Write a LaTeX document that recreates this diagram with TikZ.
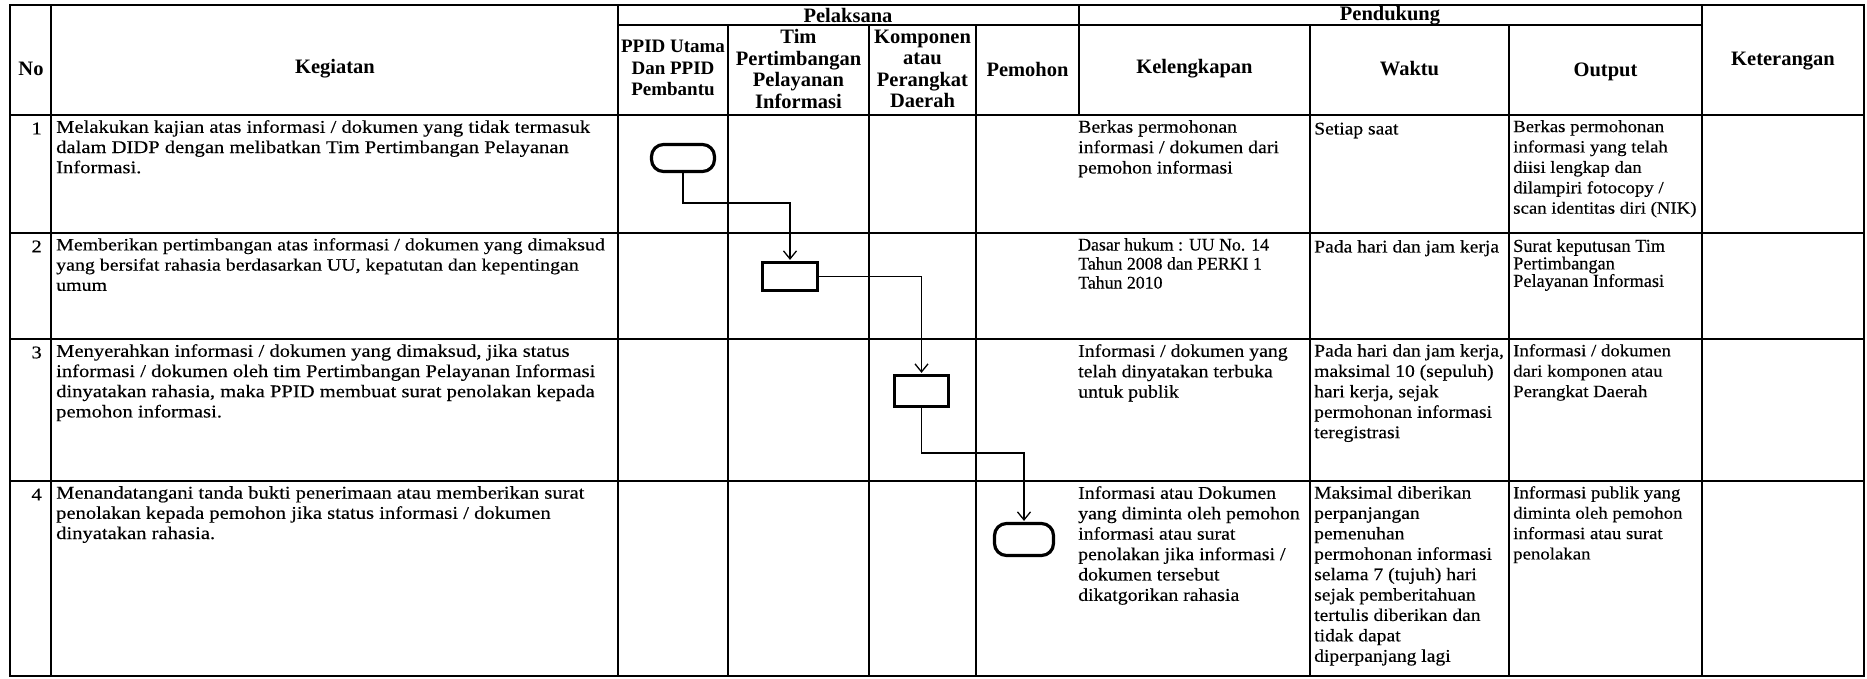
\documentclass[tikz,border=0pt]{standalone}
\usepackage{fontspec}
\setmainfont{Liberation Serif}
\newfontfamily\kegfont[FakeStretch=1.15,FakeBold=0.3]{Liberation Serif}
\newfontfamily\cellfont[FakeStretch=1.1,FakeBold=0.3]{Liberation Serif}
\newfontfamily\narrowfont[FakeBold=0.3]{Liberation Serif}
\usetikzlibrary{arrows.meta}
\begin{document}
\begin{tikzpicture}[x=1pt,y=-1pt,
  tline/.style={line width=1.9pt},
  hdr/.style={font=\bfseries\fontsize{20.5}{21.5}\selectfont, align=center, inner sep=0},
  hdrs/.style={font=\bfseries\fontsize{19}{21.5}\selectfont, align=center, inner sep=0},
  keg/.style={font=\kegfont\fontsize{17.9}{20.2}\selectfont, align=left, anchor=north west, inner sep=0, execute at begin node=\strut},
  kegs/.style={font=\kegfont\fontsize{17.3}{20.2}\selectfont, align=left, anchor=north west, inner sep=0, execute at begin node=\strut},
  cellk/.style={font=\cellfont\fontsize{18}{20.4}\selectfont, align=left, anchor=north west, inner sep=0, execute at begin node=\strut},
  cellw/.style={font=\cellfont\fontsize{17.8}{20.4}\selectfont, align=left, anchor=north west, inner sep=0, execute at begin node=\strut},
  cello/.style={font=\cellfont\fontsize{17.1}{20.4}\selectfont, align=left, anchor=north west, inner sep=0, execute at begin node=\strut},
  cellt/.style={font=\narrowfont\fontsize{18.3}{17.5}\selectfont, align=left, anchor=north west, inner sep=0, execute at begin node=\strut},
  celld/.style={font=\narrowfont\fontsize{17.8}{19}\selectfont, align=left, anchor=north west, inner sep=0, execute at begin node=\strut},
  num/.style={font=\kegfont\fontsize{17.9}{20.2}\selectfont, anchor=north east, inner sep=0, execute at begin node=\strut},
  term/.style={draw, line width=3.2pt, rounded corners=12pt, inner sep=0},
  proc/.style={draw, line width=3.2pt, inner sep=0},
  flow/.style={line width=1.3pt, shorten >=1pt, -{Straight Barb[length=8pt,width=13pt]}}
]
\useasboundingbox[fill=white] (0,0) rectangle (1867,678);

% ---- table grid ----
\draw[tline] (10,5) rectangle (1864,676);
\draw[tline] (10,115) -- (1864,115);
\draw[tline] (10,233) -- (1864,233);
\draw[tline] (10,339) -- (1864,339);
\draw[tline] (10,481) -- (1864,481);
\draw[tline] (618,25) -- (1702,25);
\draw[tline] (51,5) -- (51,676);
\draw[tline] (618,5) -- (618,676);
\draw[tline] (728,25) -- (728,676);
\draw[tline] (869,25) -- (869,676);
\draw[tline] (976,25) -- (976,676);
\draw[tline] (1079,5) -- (1079,115);
\draw[tline] (1310,25) -- (1310,676);
\draw[tline] (1509,25) -- (1509,676);
\draw[tline] (1702,5) -- (1702,676);

% ---- header ----
\node[hdr] (hno) at (31,69) {No};
\node[hdr] (hkeg) at (335,69) {Kegiatan};
\node[hdr] (hpel) at (848,15) {Pelaksana};
\node[hdr] (hpen) at (1390,16) {Pendukung};
\node[hdrs] (hppid) at (673,68) {PPID Utama\\Dan PPID\\Pembantu};
\node[hdr] (htim) at (798.5,69) {Tim\\Pertimbangan\\Pelayanan\\Informasi};
\node[hdr] (hkomp) at (922.5,69) {Komponen\\atau\\Perangkat\\Daerah};
\node[hdr] (hpem) at (1027.5,69) {Pemohon};
\node[hdr] (hkel) at (1194.5,69) {Kelengkapan};
\node[hdr] (hwak) at (1409.5,69) {Waktu};
\node[hdr] (hout) at (1605.5,72) {Output};
\node[hdr] (hket) at (1783,61) {Keterangan};

% ---- row 1 ----
\node[num] (n1) at (42,120) {1};
\node[keg] (k1) at (56,120) {Melakukan kajian atas informasi / dokumen yang tidak termasuk\\dalam DIDP dengan melibatkan Tim Pertimbangan Pelayanan\\Informasi.};
\node[cellk] (l1) at (1078,120) {Berkas permohonan\\informasi / dokumen dari\\pemohon informasi};
\node[cellw] (w1) at (1314,120) {Setiap saat};
\node[cello] (o1) at (1513,120) {Berkas permohonan\\informasi yang telah\\diisi lengkap dan\\dilampiri fotocopy /\\scan identitas diri (NIK)};

% ---- row 2 ----
\node[num] (n2) at (42,238) {2};
\node[kegs] (k2) at (56,238) {Memberikan pertimbangan atas informasi / dokumen yang dimaksud\\yang bersifat rahasia berdasarkan UU, kepatutan dan kepentingan\\umum};
\node[celld] (l2) at (1078,238) {Dasar hukum : UU No. 14\\Tahun 2008 dan PERKI 1\\Tahun 2010};
\node[cellw] (w2) at (1314,238) {Pada hari dan jam kerja};
\node[cellt] (o2) at (1513,239) {Surat keputusan Tim\\Pertimbangan\\Pelayanan Informasi};

% ---- row 3 ----
\node[num] (n3) at (42,344) {3};
\node[keg] (k3) at (56,344) {Menyerahkan informasi / dokumen yang dimaksud, jika status\\informasi / dokumen oleh tim Pertimbangan Pelayanan Informasi\\dinyatakan rahasia, maka PPID membuat surat penolakan kepada\\pemohon informasi.};
\node[cellk] (l3) at (1078,344) {Informasi / dokumen yang\\telah dinyatakan terbuka\\untuk publik};
\node[cellw] (w3) at (1314,344) {Pada hari dan jam kerja,\\maksimal 10 (sepuluh)\\hari kerja, sejak\\permohonan informasi\\teregistrasi};
\node[cello] (o3) at (1513,344) {Informasi / dokumen\\dari komponen atau\\Perangkat Daerah};

% ---- row 4 ----
\node[num] (n4) at (42,486) {4};
\node[keg] (k4) at (56,486) {Menandatangani tanda bukti penerimaan atau memberikan surat\\penolakan kepada pemohon jika status informasi / dokumen\\dinyatakan rahasia.};
\node[cellk] (l4) at (1078,486) {Informasi atau Dokumen\\yang diminta oleh pemohon\\informasi atau surat\\penolakan jika informasi /\\dokumen tersebut\\dikatgorikan rahasia};
\node[cellw] (w4) at (1314,486) {Maksimal diberikan\\perpanjangan\\pemenuhan\\permohonan informasi\\selama 7 (tujuh) hari\\sejak pemberitahuan\\tertulis diberikan dan\\tidak dapat\\diperpanjang lagi};
\node[cello] (o4) at (1513,486) {Informasi publik yang\\diminta oleh pemohon\\informasi atau surat\\penolakan};

% ---- flow ----
\node[term, minimum width=63pt, minimum height=27pt] (b1) at (683,158) {};
\node[proc, minimum width=55pt, minimum height=28pt] (b2) at (790,276.5) {};
\node[proc, minimum width=54pt, minimum height=31pt] (b3) at (921.5,391) {};
\node[term, minimum width=59pt, minimum height=32pt] (b4) at (1024,539.5) {};
\coordinate (e1) at (683,203);
\coordinate (e3) at (921.5,453);
\draw[flow] (b1.south) -- (e1) -| (b2.north);
\draw[flow] (b2.east) -| (b3.north);
\draw[flow] (b3.south) -- (e3) -| (b4.north);
\end{tikzpicture}
\end{document}
